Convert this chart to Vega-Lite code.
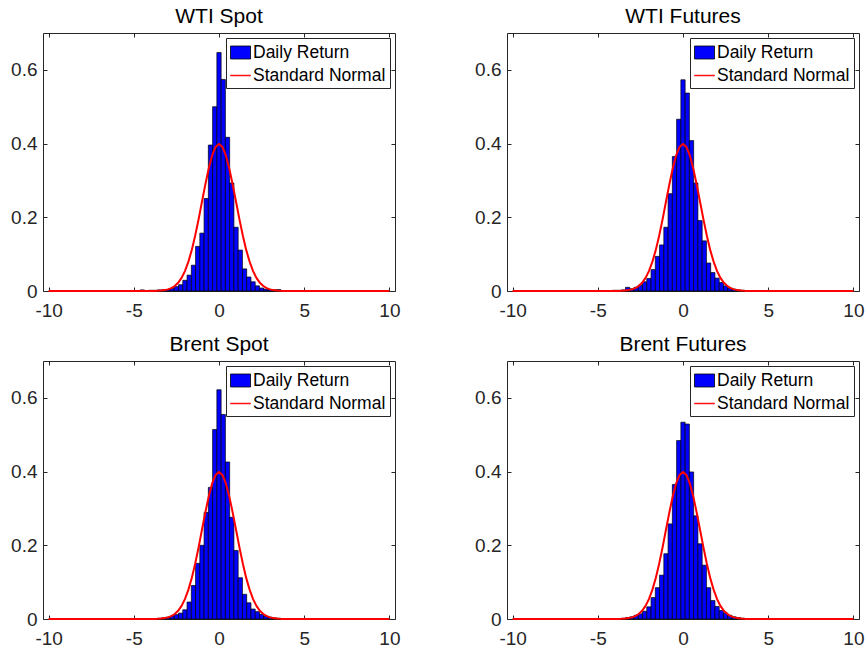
{
  "$schema": "https://vega.github.io/schema/vega-lite/v6.json",
  "background": "white",
  "padding": {"left": 10, "top": 5, "right": 5, "bottom": 5},
  "bounds": "flush",
  "columns": 2,
  "spacing": {"row": 70, "column": 112},
  "config": {
    "view": {"stroke": null},
    "axis": {
      "grid": false,
      "domainColor": "#262626",
      "domainWidth": 1,
      "tickColor": "#262626",
      "tickWidth": 1,
      "tickSize": -4,
      "labelFont": "Liberation Sans",
      "labelFontSize": 19,
      "labelColor": "#262626",
      "title": null
    },
    "legend": {
      "orient": "top-right", "offset": 5, "padding": 4, "title": null, "strokeColor": "#262626", "fillColor": "white",
      "labelFont": "Liberation Sans", "labelFontSize": 17.5, "labelColor": "black", "symbolSize": 400, "labelOffset": 2, "rowPadding": 4,
      "symbolStrokeWidth": 0.8, "symbolOpacity": 1
    },
    "title": {"font": "Liberation Sans", "fontSize": 21, "fontWeight": "normal", "color": "black", "offset": 6}
  },
  "resolve": {
    "scale": {"fill": "independent", "stroke": "independent", "shape": "independent"},
    "legend": {"fill": "independent", "stroke": "independent", "shape": "independent"}
  },
  "datasets": {
    "keys": [{"k": "Daily Return"}, {"k": "Standard Normal"}],
    "hist": [
      {"s": "WTI Spot", "lo": -4.625, "hi": -4.375, "d": 0.003},
      {"s": "WTI Spot", "lo": -4.375, "hi": -4.125, "d": 0.001},
      {"s": "WTI Spot", "lo": -4.125, "hi": -3.875, "d": 0.002},
      {"s": "WTI Spot", "lo": -3.875, "hi": -3.625, "d": 0.002},
      {"s": "WTI Spot", "lo": -3.625, "hi": -3.375, "d": 0.003},
      {"s": "WTI Spot", "lo": -3.375, "hi": -3.125, "d": 0.003},
      {"s": "WTI Spot", "lo": -3.125, "hi": -2.875, "d": 0.004},
      {"s": "WTI Spot", "lo": -2.875, "hi": -2.625, "d": 0.007},
      {"s": "WTI Spot", "lo": -2.625, "hi": -2.375, "d": 0.012},
      {"s": "WTI Spot", "lo": -2.375, "hi": -2.125, "d": 0.017},
      {"s": "WTI Spot", "lo": -2.125, "hi": -1.875, "d": 0.029},
      {"s": "WTI Spot", "lo": -1.875, "hi": -1.625, "d": 0.043},
      {"s": "WTI Spot", "lo": -1.625, "hi": -1.375, "d": 0.070},
      {"s": "WTI Spot", "lo": -1.375, "hi": -1.125, "d": 0.121},
      {"s": "WTI Spot", "lo": -1.125, "hi": -0.875, "d": 0.157},
      {"s": "WTI Spot", "lo": -0.875, "hi": -0.625, "d": 0.251},
      {"s": "WTI Spot", "lo": -0.625, "hi": -0.375, "d": 0.396},
      {"s": "WTI Spot", "lo": -0.375, "hi": -0.125, "d": 0.500},
      {"s": "WTI Spot", "lo": -0.125, "hi": 0.125, "d": 0.647},
      {"s": "WTI Spot", "lo": 0.125, "hi": 0.375, "d": 0.574},
      {"s": "WTI Spot", "lo": 0.375, "hi": 0.625, "d": 0.417},
      {"s": "WTI Spot", "lo": 0.625, "hi": 0.875, "d": 0.293},
      {"s": "WTI Spot", "lo": 0.875, "hi": 1.125, "d": 0.173},
      {"s": "WTI Spot", "lo": 1.125, "hi": 1.375, "d": 0.111},
      {"s": "WTI Spot", "lo": 1.375, "hi": 1.625, "d": 0.060},
      {"s": "WTI Spot", "lo": 1.625, "hi": 1.875, "d": 0.038},
      {"s": "WTI Spot", "lo": 1.875, "hi": 2.125, "d": 0.025},
      {"s": "WTI Spot", "lo": 2.125, "hi": 2.375, "d": 0.014},
      {"s": "WTI Spot", "lo": 2.375, "hi": 2.625, "d": 0.008},
      {"s": "WTI Spot", "lo": 2.625, "hi": 2.875, "d": 0.005},
      {"s": "WTI Spot", "lo": 2.875, "hi": 3.125, "d": 0.004},
      {"s": "WTI Spot", "lo": 3.125, "hi": 3.375, "d": 0.003},
      {"s": "WTI Spot", "lo": 3.375, "hi": 3.625, "d": 0.004},
      {"s": "WTI Spot", "lo": 3.625, "hi": 3.875, "d": 0.001},

      {"s": "WTI Futures", "lo": -4.625, "hi": -4.375, "d": 0.001},
      {"s": "WTI Futures", "lo": -4.125, "hi": -3.875, "d": 0.002},
      {"s": "WTI Futures", "lo": -3.875, "hi": -3.625, "d": 0.002},
      {"s": "WTI Futures", "lo": -3.625, "hi": -3.375, "d": 0.003},
      {"s": "WTI Futures", "lo": -3.375, "hi": -3.125, "d": 0.010},
      {"s": "WTI Futures", "lo": -3.125, "hi": -2.875, "d": 0.006},
      {"s": "WTI Futures", "lo": -2.875, "hi": -2.625, "d": 0.010},
      {"s": "WTI Futures", "lo": -2.625, "hi": -2.375, "d": 0.016},
      {"s": "WTI Futures", "lo": -2.375, "hi": -2.125, "d": 0.025},
      {"s": "WTI Futures", "lo": -2.125, "hi": -1.875, "d": 0.034},
      {"s": "WTI Futures", "lo": -1.875, "hi": -1.625, "d": 0.058},
      {"s": "WTI Futures", "lo": -1.625, "hi": -1.375, "d": 0.094},
      {"s": "WTI Futures", "lo": -1.375, "hi": -1.125, "d": 0.125},
      {"s": "WTI Futures", "lo": -1.125, "hi": -0.875, "d": 0.173},
      {"s": "WTI Futures", "lo": -0.875, "hi": -0.625, "d": 0.264},
      {"s": "WTI Futures", "lo": -0.625, "hi": -0.375, "d": 0.365},
      {"s": "WTI Futures", "lo": -0.375, "hi": -0.125, "d": 0.466},
      {"s": "WTI Futures", "lo": -0.125, "hi": 0.125, "d": 0.573},
      {"s": "WTI Futures", "lo": 0.125, "hi": 0.375, "d": 0.537},
      {"s": "WTI Futures", "lo": 0.375, "hi": 0.625, "d": 0.408},
      {"s": "WTI Futures", "lo": 0.625, "hi": 0.875, "d": 0.293},
      {"s": "WTI Futures", "lo": 0.875, "hi": 1.125, "d": 0.191},
      {"s": "WTI Futures", "lo": 1.125, "hi": 1.375, "d": 0.136},
      {"s": "WTI Futures", "lo": 1.375, "hi": 1.625, "d": 0.076},
      {"s": "WTI Futures", "lo": 1.625, "hi": 1.875, "d": 0.050},
      {"s": "WTI Futures", "lo": 1.875, "hi": 2.125, "d": 0.035},
      {"s": "WTI Futures", "lo": 2.125, "hi": 2.375, "d": 0.023},
      {"s": "WTI Futures", "lo": 2.375, "hi": 2.625, "d": 0.014},
      {"s": "WTI Futures", "lo": 2.625, "hi": 2.875, "d": 0.008},
      {"s": "WTI Futures", "lo": 2.875, "hi": 3.125, "d": 0.005},
      {"s": "WTI Futures", "lo": 3.125, "hi": 3.375, "d": 0.003},
      {"s": "WTI Futures", "lo": 3.375, "hi": 3.625, "d": 0.002},
      {"s": "WTI Futures", "lo": 3.875, "hi": 4.125, "d": 0.001},

      {"s": "Brent Spot", "lo": -4.125, "hi": -3.875, "d": 0.001},
      {"s": "Brent Spot", "lo": -3.625, "hi": -3.375, "d": 0.002},
      {"s": "Brent Spot", "lo": -3.375, "hi": -3.125, "d": 0.003},
      {"s": "Brent Spot", "lo": -3.125, "hi": -2.875, "d": 0.005},
      {"s": "Brent Spot", "lo": -2.875, "hi": -2.625, "d": 0.008},
      {"s": "Brent Spot", "lo": -2.625, "hi": -2.375, "d": 0.012},
      {"s": "Brent Spot", "lo": -2.375, "hi": -2.125, "d": 0.016},
      {"s": "Brent Spot", "lo": -2.125, "hi": -1.875, "d": 0.025},
      {"s": "Brent Spot", "lo": -1.875, "hi": -1.625, "d": 0.046},
      {"s": "Brent Spot", "lo": -1.625, "hi": -1.375, "d": 0.091},
      {"s": "Brent Spot", "lo": -1.375, "hi": -1.125, "d": 0.151},
      {"s": "Brent Spot", "lo": -1.125, "hi": -0.875, "d": 0.200},
      {"s": "Brent Spot", "lo": -0.875, "hi": -0.625, "d": 0.289},
      {"s": "Brent Spot", "lo": -0.625, "hi": -0.375, "d": 0.357},
      {"s": "Brent Spot", "lo": -0.375, "hi": -0.125, "d": 0.514},
      {"s": "Brent Spot", "lo": -0.125, "hi": 0.125, "d": 0.622},
      {"s": "Brent Spot", "lo": 0.125, "hi": 0.375, "d": 0.555},
      {"s": "Brent Spot", "lo": 0.375, "hi": 0.625, "d": 0.426},
      {"s": "Brent Spot", "lo": 0.625, "hi": 0.875, "d": 0.276},
      {"s": "Brent Spot", "lo": 0.875, "hi": 1.125, "d": 0.186},
      {"s": "Brent Spot", "lo": 1.125, "hi": 1.375, "d": 0.112},
      {"s": "Brent Spot", "lo": 1.375, "hi": 1.625, "d": 0.067},
      {"s": "Brent Spot", "lo": 1.625, "hi": 1.875, "d": 0.044},
      {"s": "Brent Spot", "lo": 1.875, "hi": 2.125, "d": 0.027},
      {"s": "Brent Spot", "lo": 2.125, "hi": 2.375, "d": 0.020},
      {"s": "Brent Spot", "lo": 2.375, "hi": 2.625, "d": 0.013},
      {"s": "Brent Spot", "lo": 2.625, "hi": 2.875, "d": 0.008},
      {"s": "Brent Spot", "lo": 2.875, "hi": 3.125, "d": 0.005},
      {"s": "Brent Spot", "lo": 3.125, "hi": 3.375, "d": 0.003},
      {"s": "Brent Spot", "lo": 3.375, "hi": 3.625, "d": 0.002},

      {"s": "Brent Futures", "lo": -4.625, "hi": -4.375, "d": 0.001},
      {"s": "Brent Futures", "lo": -4.125, "hi": -3.875, "d": 0.001},
      {"s": "Brent Futures", "lo": -3.625, "hi": -3.375, "d": 0.002},
      {"s": "Brent Futures", "lo": -3.375, "hi": -3.125, "d": 0.004},
      {"s": "Brent Futures", "lo": -3.125, "hi": -2.875, "d": 0.006},
      {"s": "Brent Futures", "lo": -2.875, "hi": -2.625, "d": 0.010},
      {"s": "Brent Futures", "lo": -2.625, "hi": -2.375, "d": 0.014},
      {"s": "Brent Futures", "lo": -2.375, "hi": -2.125, "d": 0.021},
      {"s": "Brent Futures", "lo": -2.125, "hi": -1.875, "d": 0.033},
      {"s": "Brent Futures", "lo": -1.875, "hi": -1.625, "d": 0.058},
      {"s": "Brent Futures", "lo": -1.625, "hi": -1.375, "d": 0.085},
      {"s": "Brent Futures", "lo": -1.375, "hi": -1.125, "d": 0.119},
      {"s": "Brent Futures", "lo": -1.125, "hi": -0.875, "d": 0.177},
      {"s": "Brent Futures", "lo": -0.875, "hi": -0.625, "d": 0.258},
      {"s": "Brent Futures", "lo": -0.625, "hi": -0.375, "d": 0.365},
      {"s": "Brent Futures", "lo": -0.375, "hi": -0.125, "d": 0.484},
      {"s": "Brent Futures", "lo": -0.125, "hi": 0.125, "d": 0.534},
      {"s": "Brent Futures", "lo": 0.125, "hi": 0.375, "d": 0.529},
      {"s": "Brent Futures", "lo": 0.375, "hi": 0.625, "d": 0.399},
      {"s": "Brent Futures", "lo": 0.625, "hi": 0.875, "d": 0.280},
      {"s": "Brent Futures", "lo": 0.875, "hi": 1.125, "d": 0.204},
      {"s": "Brent Futures", "lo": 1.125, "hi": 1.375, "d": 0.146},
      {"s": "Brent Futures", "lo": 1.375, "hi": 1.625, "d": 0.085},
      {"s": "Brent Futures", "lo": 1.625, "hi": 1.875, "d": 0.050},
      {"s": "Brent Futures", "lo": 1.875, "hi": 2.125, "d": 0.034},
      {"s": "Brent Futures", "lo": 2.125, "hi": 2.375, "d": 0.023},
      {"s": "Brent Futures", "lo": 2.375, "hi": 2.625, "d": 0.016},
      {"s": "Brent Futures", "lo": 2.625, "hi": 2.875, "d": 0.010},
      {"s": "Brent Futures", "lo": 2.875, "hi": 3.125, "d": 0.006},
      {"s": "Brent Futures", "lo": 3.125, "hi": 3.375, "d": 0.004},
      {"s": "Brent Futures", "lo": 3.375, "hi": 3.625, "d": 0.002},
      {"s": "Brent Futures", "lo": 3.875, "hi": 4.125, "d": 0.001}
    ],
    "normal": [
      {"x": -10, "p": 0}, {"x": -5, "p": 0.0000015}, {"x": -4.4, "p": 0.00002}, {"x": -4.2, "p": 0.00006}, {"x": -4.0, "p": 0.0001},
      {"x": -3.8, "p": 0.0003}, {"x": -3.6, "p": 0.0006}, {"x": -3.4, "p": 0.0012}, {"x": -3.2, "p": 0.0024},
      {"x": -3.0, "p": 0.0044}, {"x": -2.8, "p": 0.0079}, {"x": -2.6, "p": 0.0136}, {"x": -2.4, "p": 0.0224},
      {"x": -2.2, "p": 0.0355}, {"x": -2.0, "p": 0.0540}, {"x": -1.8, "p": 0.0790}, {"x": -1.6, "p": 0.1109},
      {"x": -1.4, "p": 0.1497}, {"x": -1.2, "p": 0.1942}, {"x": -1.0, "p": 0.2420}, {"x": -0.8, "p": 0.2897},
      {"x": -0.6, "p": 0.3332}, {"x": -0.4, "p": 0.3683}, {"x": -0.2, "p": 0.3910}, {"x": 0, "p": 0.3989},
      {"x": 0.2, "p": 0.3910}, {"x": 0.4, "p": 0.3683}, {"x": 0.6, "p": 0.3332}, {"x": 0.8, "p": 0.2897},
      {"x": 1.0, "p": 0.2420}, {"x": 1.2, "p": 0.1942}, {"x": 1.4, "p": 0.1497}, {"x": 1.6, "p": 0.1109},
      {"x": 1.8, "p": 0.0790}, {"x": 2.0, "p": 0.0540}, {"x": 2.2, "p": 0.0355}, {"x": 2.4, "p": 0.0224},
      {"x": 2.6, "p": 0.0136}, {"x": 2.8, "p": 0.0079}, {"x": 3.0, "p": 0.0044}, {"x": 3.2, "p": 0.0024},
      {"x": 3.4, "p": 0.0012}, {"x": 3.6, "p": 0.0006}, {"x": 3.8, "p": 0.0003}, {"x": 4.0, "p": 0.0001},
      {"x": 4.2, "p": 0.00006}, {"x": 4.4, "p": 0.00002}, {"x": 5, "p": 0.0000015}, {"x": 10, "p": 0}
    ]
  },
  "concat": [
    {
      "title": "WTI Spot",
      "width": 352, "height": 258,
      "resolve": {"axis": {"x": "independent", "y": "independent"}},
      "layer": [
        {
          "data": {"name": "hist"},
          "transform": [{"filter": "datum.s === 'WTI Spot'"}],
          "mark": {"type": "bar", "fill": "#0000ff", "stroke": "black", "strokeWidth": 0.7},
          "encoding": {
            "x": {"field": "lo", "type": "quantitative", "scale": {"domain": [-10.33, 10.33], "nice": false, "zero": false}, "axis": {"orient": "bottom", "values": [-10, -5, 0, 5, 10], "labelPadding": 14, "labelExpr": "datum.value < 0 ? '-' + abs(datum.value) : '' + datum.value"}},
            "x2": {"field": "hi"},
            "y": {"field": "d", "type": "quantitative", "scale": {"domain": [0, 0.7], "nice": false}, "axis": {"orient": "left", "values": [0, 0.2, 0.4, 0.6], "format": ".1~f", "labelPadding": 10}},
            "y2": {"datum": 0}
          }
        },
        {
          "data": {"name": "normal"},
          "mark": {"type": "line", "stroke": "#ff0000", "strokeWidth": 2},
          "encoding": {
            "x": {"field": "x", "type": "quantitative", "axis": {"orient": "top", "values": [-10, -5, 0, 5, 10], "labels": false}},
            "y": {"field": "p", "type": "quantitative", "axis": {"orient": "right", "values": [0, 0.2, 0.4, 0.6], "labels": false}}
          }
        },
        {
          "data": {"name": "keys"},
          "mark": {"type": "point", "opacity": 0},
          "encoding": {
            "fill": {"field": "k", "type": "nominal", "scale": {"domain": ["Daily Return", "Standard Normal"], "range": ["#0000ff", "#ff0000"]}},
            "stroke": {"field": "k", "type": "nominal", "scale": {"domain": ["Daily Return", "Standard Normal"], "range": ["#000000", "#ff0000"]}},
            "shape": {"field": "k", "type": "nominal", "scale": {"domain": ["Daily Return", "Standard Normal"], "range": ["M-1,-0.65H1V0.65H-1Z", "M-1,-0.03H1V0.03H-1Z"]}}
          }
        }
      ]
    },
    {
      "title": "WTI Futures",
      "width": 352, "height": 258,
      "resolve": {"axis": {"x": "independent", "y": "independent"}},
      "layer": [
        {
          "data": {"name": "hist"},
          "transform": [{"filter": "datum.s === 'WTI Futures'"}],
          "mark": {"type": "bar", "fill": "#0000ff", "stroke": "black", "strokeWidth": 0.7},
          "encoding": {
            "x": {"field": "lo", "type": "quantitative", "scale": {"domain": [-10.33, 10.33], "nice": false, "zero": false}, "axis": {"orient": "bottom", "values": [-10, -5, 0, 5, 10], "labelPadding": 14, "labelExpr": "datum.value < 0 ? '-' + abs(datum.value) : '' + datum.value"}},
            "x2": {"field": "hi"},
            "y": {"field": "d", "type": "quantitative", "scale": {"domain": [0, 0.7], "nice": false}, "axis": {"orient": "left", "values": [0, 0.2, 0.4, 0.6], "format": ".1~f", "labelPadding": 10}},
            "y2": {"datum": 0}
          }
        },
        {
          "data": {"name": "normal"},
          "mark": {"type": "line", "stroke": "#ff0000", "strokeWidth": 2},
          "encoding": {
            "x": {"field": "x", "type": "quantitative", "axis": {"orient": "top", "values": [-10, -5, 0, 5, 10], "labels": false}},
            "y": {"field": "p", "type": "quantitative", "axis": {"orient": "right", "values": [0, 0.2, 0.4, 0.6], "labels": false}}
          }
        },
        {
          "data": {"name": "keys"},
          "mark": {"type": "point", "opacity": 0},
          "encoding": {
            "fill": {"field": "k", "type": "nominal", "scale": {"domain": ["Daily Return", "Standard Normal"], "range": ["#0000ff", "#ff0000"]}},
            "stroke": {"field": "k", "type": "nominal", "scale": {"domain": ["Daily Return", "Standard Normal"], "range": ["#000000", "#ff0000"]}},
            "shape": {"field": "k", "type": "nominal", "scale": {"domain": ["Daily Return", "Standard Normal"], "range": ["M-1,-0.65H1V0.65H-1Z", "M-1,-0.03H1V0.03H-1Z"]}}
          }
        }
      ]
    },
    {
      "title": "Brent Spot",
      "width": 352, "height": 258,
      "resolve": {"axis": {"x": "independent", "y": "independent"}},
      "layer": [
        {
          "data": {"name": "hist"},
          "transform": [{"filter": "datum.s === 'Brent Spot'"}],
          "mark": {"type": "bar", "fill": "#0000ff", "stroke": "black", "strokeWidth": 0.7},
          "encoding": {
            "x": {"field": "lo", "type": "quantitative", "scale": {"domain": [-10.33, 10.33], "nice": false, "zero": false}, "axis": {"orient": "bottom", "values": [-10, -5, 0, 5, 10], "labelPadding": 14, "labelExpr": "datum.value < 0 ? '-' + abs(datum.value) : '' + datum.value"}},
            "x2": {"field": "hi"},
            "y": {"field": "d", "type": "quantitative", "scale": {"domain": [0, 0.7], "nice": false}, "axis": {"orient": "left", "values": [0, 0.2, 0.4, 0.6], "format": ".1~f", "labelPadding": 10}},
            "y2": {"datum": 0}
          }
        },
        {
          "data": {"name": "normal"},
          "mark": {"type": "line", "stroke": "#ff0000", "strokeWidth": 2},
          "encoding": {
            "x": {"field": "x", "type": "quantitative", "axis": {"orient": "top", "values": [-10, -5, 0, 5, 10], "labels": false}},
            "y": {"field": "p", "type": "quantitative", "axis": {"orient": "right", "values": [0, 0.2, 0.4, 0.6], "labels": false}}
          }
        },
        {
          "data": {"name": "keys"},
          "mark": {"type": "point", "opacity": 0},
          "encoding": {
            "fill": {"field": "k", "type": "nominal", "scale": {"domain": ["Daily Return", "Standard Normal"], "range": ["#0000ff", "#ff0000"]}},
            "stroke": {"field": "k", "type": "nominal", "scale": {"domain": ["Daily Return", "Standard Normal"], "range": ["#000000", "#ff0000"]}},
            "shape": {"field": "k", "type": "nominal", "scale": {"domain": ["Daily Return", "Standard Normal"], "range": ["M-1,-0.65H1V0.65H-1Z", "M-1,-0.03H1V0.03H-1Z"]}}
          }
        }
      ]
    },
    {
      "title": "Brent Futures",
      "width": 352, "height": 258,
      "resolve": {"axis": {"x": "independent", "y": "independent"}},
      "layer": [
        {
          "data": {"name": "hist"},
          "transform": [{"filter": "datum.s === 'Brent Futures'"}],
          "mark": {"type": "bar", "fill": "#0000ff", "stroke": "black", "strokeWidth": 0.7},
          "encoding": {
            "x": {"field": "lo", "type": "quantitative", "scale": {"domain": [-10.33, 10.33], "nice": false, "zero": false}, "axis": {"orient": "bottom", "values": [-10, -5, 0, 5, 10], "labelPadding": 14, "labelExpr": "datum.value < 0 ? '-' + abs(datum.value) : '' + datum.value"}},
            "x2": {"field": "hi"},
            "y": {"field": "d", "type": "quantitative", "scale": {"domain": [0, 0.7], "nice": false}, "axis": {"orient": "left", "values": [0, 0.2, 0.4, 0.6], "format": ".1~f", "labelPadding": 10}},
            "y2": {"datum": 0}
          }
        },
        {
          "data": {"name": "normal"},
          "mark": {"type": "line", "stroke": "#ff0000", "strokeWidth": 2},
          "encoding": {
            "x": {"field": "x", "type": "quantitative", "axis": {"orient": "top", "values": [-10, -5, 0, 5, 10], "labels": false}},
            "y": {"field": "p", "type": "quantitative", "axis": {"orient": "right", "values": [0, 0.2, 0.4, 0.6], "labels": false}}
          }
        },
        {
          "data": {"name": "keys"},
          "mark": {"type": "point", "opacity": 0},
          "encoding": {
            "fill": {"field": "k", "type": "nominal", "scale": {"domain": ["Daily Return", "Standard Normal"], "range": ["#0000ff", "#ff0000"]}},
            "stroke": {"field": "k", "type": "nominal", "scale": {"domain": ["Daily Return", "Standard Normal"], "range": ["#000000", "#ff0000"]}},
            "shape": {"field": "k", "type": "nominal", "scale": {"domain": ["Daily Return", "Standard Normal"], "range": ["M-1,-0.65H1V0.65H-1Z", "M-1,-0.03H1V0.03H-1Z"]}}
          }
        }
      ]
    }
  ]
}
